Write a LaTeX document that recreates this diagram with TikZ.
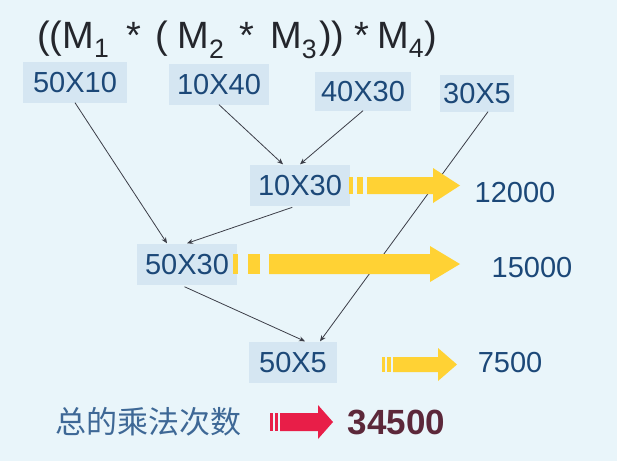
\documentclass[tikz,border=0pt]{standalone}
\usepackage{fontspec}
\setmainfont{Liberation Sans}
\newfontfamily\cjk{Noto Sans CJK SC}
\usetikzlibrary{arrows.meta}
\definecolor{bgcol}{RGB}{233,245,250}
\definecolor{boxcol}{RGB}{213,230,242}
\definecolor{numcol}{RGB}{28,72,120}
\definecolor{titlecol}{RGB}{36,38,44}
\definecolor{linecol}{RGB}{60,62,72}
\definecolor{arryellow}{RGB}{255,210,52}
\definecolor{arrred}{RGB}{232,30,72}
\definecolor{totcol}{RGB}{92,40,58}
\definecolor{cjkcol}{RGB}{62,104,150}

\begin{document}
\begin{tikzpicture}[x=1pt,y=1pt,yscale=-1,
    mbox/.style={fill=boxcol, text=numcol, inner xsep=8pt, inner ysep=10pt,
        text height=21pt, text depth=0pt, font=\fontsize{29}{32}\selectfont},
    cost/.style={text=numcol, inner sep=0pt, font=\fontsize{29}{32}\selectfont},
    conn/.style={draw=linecol, line width=0.8pt, -{Stealth[length=6pt,width=5pt]}},
    yarrow/.style={fill=arryellow},
    rarrow/.style={fill=arrred}]
    \useasboundingbox (0,0) rectangle (617,461);
    \fill[bgcol] (0,0) rectangle (617,461);
    %Title
    \node [anchor=base west, inner sep=0pt, text=titlecol, font=\fontsize{38}{44}\selectfont] (title) at (37,48)
        {((M\textsubscript{1}\hspace{17pt}*\hspace{14pt}(\hspace{9.5pt}M\textsubscript{2}\hspace{15pt}*\hspace{16pt}M\textsubscript{3}\hspace{2pt}))\hspace{10pt}*\hspace{8pt}M\textsubscript{4})};
    %Matrices
    \node [mbox, inner xsep=10pt] (m1) at (75,82) {50X10};
    \node [mbox] (m2) at (219,84) {10X40};
    \node [mbox, inner xsep=6pt, inner ysep=9pt] (m3) at (363,91) {40X30};
    \node [mbox, inner xsep=3pt, inner ysep=8pt] (m4) at (477,93) {30X5};
    %Products
    \node [mbox] (p23) at (300,185) {10X30};
    \node [mbox] (p123) at (187,264) {50X30};
    \node [mbox, inner xsep=10pt] (res) at (293,362) {50X5};
    %Connectors
    \draw [conn] (m1.south) -- ([xshift=-20pt]p123.north);
    \draw [conn] (m2.south) -- ([xshift=-17pt]p23.north);
    \draw [conn] (m3.south) -- (p23.north);
    \draw [conn, shorten <=5pt] ([xshift=-3pt]p23.south) -- (p123.north);
    \draw [conn, shorten <=5pt] ([xshift=-7pt]p123.south) -- ([xshift=12pt]res.north);
    \draw [conn] ([xshift=11pt]m4.south) -- ([xshift=27pt]res.north);
    %Yellow arrows
    \fill [yarrow] (349,177) rectangle (353,194);
    \fill [yarrow] (357,177) rectangle (363,194);
    \fill [yarrow] (367,177) -- (433,177) -- (433,168) -- (460,185.5) -- (433,203) -- (433,194) -- (367,194) -- cycle;
    \fill [yarrow] (233,254) rectangle (238,274);
    \fill [yarrow] (248,254) rectangle (260,274);
    \fill [yarrow] (269,254) -- (430,254) -- (430,246) -- (460,264) -- (430,282) -- (430,274) -- (269,274) -- cycle;
    \fill [yarrow] (382,357) rectangle (385,372);
    \fill [yarrow] (387,357) rectangle (391,372);
    \fill [yarrow] (393,357) -- (438,357) -- (438,348) -- (457,364.5) -- (438,381) -- (438,372) -- (393,372) -- cycle;
    %Costs
    \node [cost] (c1) at (515,193) {12000};
    \node [cost] (c2) at (532,268) {15000};
    \node [cost] (c3) at (510,363) {7500};
    %Total
    \node [text=cjkcol, inner sep=0pt, font=\cjk\fontsize{31}{34}\selectfont] (tlabel) at (148,422) {总的乘法次数};
    \fill [rarrow] (270,413) rectangle (273,431);
    \fill [rarrow] (274.5,413) rectangle (277.5,431);
    \fill [rarrow] (280,413) -- (318,413) -- (318,405) -- (333,422) -- (318,439) -- (318,431) -- (280,431) -- cycle;
    \node [text=totcol, inner sep=0pt, font=\bfseries\fontsize{35}{38}\selectfont] (total) at (396.5,422) {34500};
\end{tikzpicture}
\end{document}
